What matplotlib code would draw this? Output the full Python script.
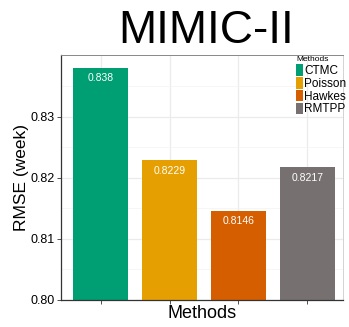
import matplotlib
matplotlib.use("Agg")
import matplotlib.pyplot as plt
from matplotlib.patches import Patch

methods = ["CTMC", "Poisson", "Hawkes", "RMTPP"]
rmse = [0.838, 0.8229, 0.8146, 0.8217]
labels = ["0.838", "0.8229", "0.8146", "0.8217"]
colors = ["#009E73", "#E69F00", "#D55E00", "#767170"]
yticks = [0.80, 0.81, 0.82, 0.83]
ytick_labels = ["0.80", "0.81", "0.82", "0.83"]

plt.rcParams["font.family"] = ["Liberation Sans", "DejaVu Sans"]

fig = plt.figure(figsize=(3.49, 3.27), dpi=100)
ax = fig.add_axes([61 / 349, 27 / 327, 282 / 349, 245 / 327])

x = list(range(len(methods)))
ax.bar(x, [v - 0.80 for v in rmse], bottom=0.80, width=0.8, color=colors, zorder=2)
for xi, v, t in zip(x, rmse, labels):
    ax.text(xi, v - 0.0009, t, ha="center", va="top", color="white", fontsize=7.5, zorder=3)

ax.set_xlim(-0.58, 3.52)
ax.set_ylim(0.80, 0.8401)
ax.set_yticks(yticks)
ax.set_yticklabels(ytick_labels, fontsize=9)
ax.set_yticks([0.805, 0.815, 0.825, 0.835], minor=True)
ax.set_xticks(x)
ax.set_xticklabels([])
ax.grid(True, which="major", color="#ebebeb", linewidth=0.9, zorder=0)
ax.grid(True, which="minor", axis="y", color="#f3f3f3", linewidth=0.5, zorder=0)
ax.tick_params(axis="both", which="major", length=3, color="#333333", width=0.6, pad=1.5)
ax.tick_params(axis="y", which="minor", length=0)
for side in ["left", "bottom"]:
    ax.spines[side].set_color("#333333")
    ax.spines[side].set_linewidth(0.9)
ax.spines["top"].set_color("#888888")
ax.spines["top"].set_linewidth(0.7)
ax.spines["right"].set_color("#cccccc")
ax.spines["right"].set_linewidth(0.6)

ax.set_ylabel("RMSE (week)", fontsize=12.5, labelpad=1)
ax.set_xlabel("Methods", fontsize=13, labelpad=-1)
fig.text(206 / 349, 1 - 43 / 327, "MIMIC-II", ha="center", va="baseline", fontsize=33)

handles = [Patch(facecolor=c, edgecolor="none") for c in colors]
leg = ax.legend(handles, methods, title="Methods", loc="upper left",
                bbox_to_anchor=(296 / 349, 1 - 56 / 327), bbox_transform=fig.transFigure,
                borderaxespad=0, frameon=False, fontsize=8.5, title_fontsize=6,
                handlelength=0.6, handleheight=1.12,
                handletextpad=0.1, labelspacing=0.0, borderpad=0.0)
leg._legend_box.align = "left"
leg._legend_box.sep = 1

fig.savefig("out.png", dpi=100)
